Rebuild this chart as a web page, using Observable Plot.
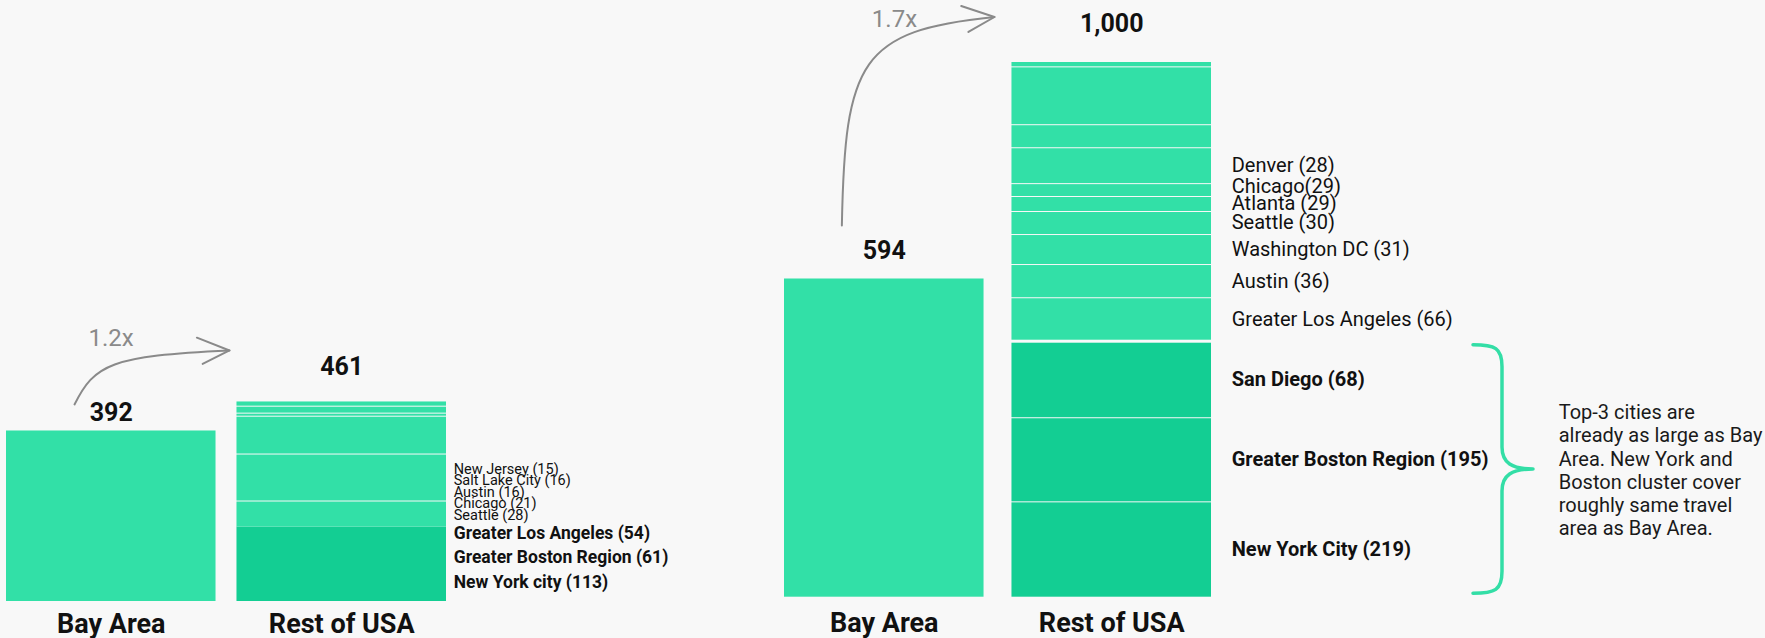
<!DOCTYPE html>
<html>
<head>
<meta charset="utf-8">
<script src="https://cdn.jsdelivr.net/npm/d3@7"></script>
<script src="https://cdn.jsdelivr.net/npm/@observablehq/plot@0.6"></script>
<style>
  html, body { margin: 0; padding: 0; background: #f8f8f8; overflow: hidden; }
  #wrap { display: flex; width: 1765px; height: 638px; }
  #wrap svg { overflow: visible; flex: none; }
</style>
</head>
<body>
<div id="wrap"></div>
<script>
// ---------- data ----------
const groups = ["Bay Area", "Rest of USA"];

// left panel
const leftTotals = [392, 461];
const leftRestSegments = [171, 60, 108, 87, 7, 16, 12];          // bottom -> top
const leftRestShades   = ["dark", "light", "light", "light", "light", "light", "light"];
const leftBoldLabels   = ["Greater Los Angeles (54)", "Greater Boston Region (61)", "New York city (113)"];
const leftSmallLabels  = ["New Jersey (15)", "Salt Lake City (16)", "Austin (16)", "Chicago (21)", "Seattle (28)"];

// right panel
const rightTotals = [594, 1000];
const rightRestSegments = [178, 157, 141, 83, 62, 56, 43, 28, 24, 67, 43, 108, 10]; // bottom -> top
const rightRestShades   = ["dark", "dark", "dark", "light", "light", "light", "light", "light", "light", "light", "light", "light", "light"];
const rightRestLabels   = ["New York City (219)", "Greater Boston Region (195)", "San Diego (68)",
  "Greater Los Angeles (66)", "Austin (36)", "Washington DC (31)", "Seattle (30)", "Atlanta (29)",
  "Chicago(29)", "Denver (28)", "", "", ""];

const noteLines = ["Top-3 cities are", "already as large as Bay", "Area. New York and",
  "Boston cluster cover", "roughly same travel", "area as Bay Area."];

// ---------- style ----------
const FONT = 'Roboto, "Titillium Web", "Noto Sans", sans-serif';
const LIGHT = "#32e0a7", DARK = "#13ce93", INK = "#111111", GREY = "#8a8a8a", BRACE = "#33dea6";

function buildRows(totals, segs, shades, labels) {
  const rows = [{group: groups[0], y1: 0, y2: totals[0], shade: "light", label: "", first: true}];
  let acc = 0;
  segs.forEach((v, i) => {
    rows.push({group: groups[1], y1: acc, y2: acc + v, shade: shades[i],
      label: labels ? labels[i] : "", first: i === 0 || shades[i] !== shades[i - 1]});
    acc += v;
  });
  return rows;
}

// place labels at segment middles, pushed apart to a minimum spacing (in data units)
function dodgeLabels(rows, minGap) {
  let prev = -Infinity;
  rows.filter(d => d.group === groups[1] && d.label).forEach(d => {
    const mid = (d.y1 + d.y2) / 2;
    d.labelY = Math.max(mid, prev + minGap);
    prev = d.labelY;
  });
}

function scalePos(sc, v) {
  if (typeof sc.apply === "function") return sc.apply(v);
  if (sc.type === "band") {
    return d3.scaleBand().domain(sc.domain).range(sc.range)
      .paddingInner(sc.paddingInner ?? 0).paddingOuter(sc.paddingOuter ?? 0).align(sc.align ?? 0.5)(v);
  }
  return d3.scaleLinear().domain(sc.domain).range(sc.range)(v);
}

function drawArrow(plot, totals, o) {
  const xs = plot.scale("x"), ys = plot.scale("y");
  const bw = xs.bandwidth;
  const x0 = scalePos(xs, groups[0]) + bw * o.startFrac;
  const y0 = scalePos(ys, totals[0]) - o.startLift;
  const x3 = scalePos(xs, groups[1]) - o.endGap;
  const y3 = scalePos(ys, totals[1]) - o.endLift;
  const dx = x3 - x0, dy = y3 - y0;
  const c1 = [x0 + o.c1[0] * dx, y0 + o.c1[1] * dy];
  const c2 = [x0 + o.c2[0] * dx, y3 - o.c2[1] * dy];
  const svg = d3.select(plot);
  const g = svg.append("g").attr("fill", "none").attr("stroke", GREY)
    .attr("stroke-width", 2).attr("stroke-linecap", "round").attr("stroke-linejoin", "round");
  g.append("path").attr("d", `M${x0},${y0}C${c1[0]},${c1[1]} ${c2[0]},${c2[1]} ${x3},${y3}`);
  const th = Math.atan2(y3 - c2[1], x3 - c2[0]) + Math.PI;
  const a = 24 * Math.PI / 180;
  const up = [x3 + 35 * Math.cos(th + a), y3 + 35 * Math.sin(th + a)];
  const lo = [x3 + 30 * Math.cos(th - a), y3 + 30 * Math.sin(th - a)];
  g.append("path").attr("d", `M${up[0]},${up[1]}L${x3},${y3}L${lo[0]},${lo[1]}`);
  svg.append("text").attr("x", x0 + o.labelDx).attr("y", y3 + o.labelDy)
    .attr("fill", GREY).attr("font-size", 24).attr("text-anchor", "start")
    .style("font-family", FONT)
    .text((totals[1] / totals[0]).toFixed(1) + "x");
}

function panelMarks(rows, totals, o) {
  const rest = rows.filter(d => d.group === groups[1]);
  return [
    Plot.rectY(rows.filter(d => d.group === groups[0]), {x: "group", y1: "y1", y2: "y2", fill: LIGHT}),
    Plot.rectY(rest.filter(d => d.shade === "dark"), {x: "group", y1: "y1", y2: "y2", fill: DARK, insetTop: o.darkInset}),
    Plot.rectY(rest.filter(d => d.shade === "light" && d.first), {x: "group", y1: "y1", y2: "y2", fill: LIGHT, insetTop: 1, insetBottom: o.groupGap}),
    Plot.rectY(rest.filter(d => d.shade === "light" && !d.first), {x: "group", y1: "y1", y2: "y2", fill: LIGHT, insetTop: 1}),
    // totals above bars
    Plot.text(groups.slice(0, 1), {x: d => d, y: () => totals[0], text: () => d3.format(",")(totals[0]),
      lineAnchor: "bottom", dy: o.totalDy[0], fontSize: 25, fontWeight: "bold", fill: INK}),
    Plot.text(groups.slice(1), {x: d => d, y: () => totals[1], text: () => d3.format(",")(totals[1]),
      lineAnchor: "bottom", dy: o.totalDy[1], fontSize: 25, fontWeight: "bold", fill: INK}),
    // category labels below bars
    Plot.text(groups, {x: d => d, y: () => 0, text: d => d, lineAnchor: "top", dy: o.catPad,
      fontSize: 27, fontWeight: "bold", fill: INK})
  ];
}

// ---------- left panel ----------
const leftRows = buildRows(leftTotals, leftRestSegments, leftRestShades);
const kLeft = 0.435;
const leftPlot = Plot.plot({
  width: 700, height: 638,
  marginTop: 0, marginRight: 0, marginBottom: 37, marginLeft: 0,
  style: {background: "transparent", fontFamily: FONT, overflow: "visible"},
  x: {domain: groups, range: [6, 446], paddingInner: 0.0909, paddingOuter: 0, round: false, axis: null},
  y: {domain: [0, 1000], range: [601, 601 - 1000 * kLeft], axis: null},
  marks: [
    ...panelMarks(leftRows, leftTotals, {darkInset: 0, groupGap: 0, catPad: 12, totalDy: [-10, -26]}),
    Plot.text([leftSmallLabels.join("\n")], {x: () => groups[1], y: () => 0, text: d => d,
      textAnchor: "start", lineAnchor: "bottom", dx: 112, dy: -82, fontSize: 14.5, lineHeight: 0.79, fill: INK}),
    Plot.text([leftBoldLabels.join("\n")], {x: () => groups[1], y: () => 0, text: d => d,
      textAnchor: "start", lineAnchor: "bottom", dx: 112, dy: -14, fontSize: 17.5, fontWeight: "bold", lineHeight: 1.4, fill: INK})
  ]
});
drawArrow(leftPlot, leftTotals, {startFrac: 0.327, startLift: 26, endGap: 7, endLift: 50,
  c1: [0.13, 0.74], c2: [0.23, 0.1], labelDx: 14, labelDy: -4});

// ---------- right panel ----------
const rightRows = buildRows(rightTotals, rightRestSegments, rightRestShades, rightRestLabels);
const darkTotal = d3.sum(rightRestSegments.filter((v, i) => rightRestShades[i] === "dark"));
const kRight = 0.5357;
dodgeLabels(rightRows, 17 / kRight);
const rightPlot = Plot.plot({
  width: 1065, height: 638,
  marginTop: 0, marginRight: 0, marginBottom: 41.3, marginLeft: 0,
  style: {background: "transparent", fontFamily: FONT, overflow: "visible"},
  x: {domain: groups, range: [84, 511], paddingInner: 0.1228, paddingOuter: 0, round: false, axis: null},
  y: {domain: [0, 1000], range: [596.7, 596.7 - 1000 * kRight], axis: null},
  marks: [
    ...panelMarks(rightRows, rightTotals, {darkInset: 1, groupGap: 2, catPad: 16, totalDy: [-20, -30]}),
    Plot.text(rightRows.filter(d => d.label && d.shade === "light"), {x: "group", y: "labelY",
      text: "label", textAnchor: "start", dx: 120, fontSize: 20, fill: INK}),
    Plot.text(rightRows.filter(d => d.label && d.shade === "dark"), {x: "group", y: "labelY",
      text: "label", textAnchor: "start", dx: 120, fontSize: 20, fontWeight: "bold", fill: INK}),
    Plot.text([noteLines.join("\n")], {x: () => groups[1], y: () => darkTotal / 2, text: d => d,
      textAnchor: "start", lineAnchor: "middle", dx: 447, fontSize: 20, lineHeight: 1.165, fill: "#1a1a1a"})
  ]
});
drawArrow(rightPlot, rightTotals, {startFrac: 0.29, startLift: 53, endGap: 17, endLift: 44,
  c1: [0.02, 0.79], c2: [0.12, 0.065], labelDx: 30, labelDy: 10});

// curly brace spanning the top-3 (dark) segments
(function drawBrace(plot) {
  const xs = plot.scale("x"), ys = plot.scale("y");
  const right = scalePos(xs, groups[1]) + xs.bandwidth;
  const top = scalePos(ys, darkTotal) + 3, bot = scalePos(ys, 0) - 3.4, mid = (top + bot) / 2;
  const x0 = right + 262, xv = right + 291, xt = right + 322;
  const d = `M${x0},${top}C${x0 + 22},${top} ${xv},${top + 3} ${xv},${top + 22}` +
    `L${xv},${mid - 22}C${xv},${mid - 6} ${xv + 10},${mid} ${xt},${mid}` +
    `M${xt},${mid}C${xv + 10},${mid} ${xv},${mid + 6} ${xv},${mid + 22}` +
    `L${xv},${bot - 22}C${xv},${bot - 3} ${x0 + 22},${bot} ${x0},${bot}`;
  d3.select(plot).append("path").attr("d", d).attr("fill", "none").attr("stroke", BRACE)
    .attr("stroke-width", 3.5).attr("stroke-linecap", "round").attr("stroke-linejoin", "round");
})(rightPlot);

const wrap = document.getElementById("wrap");
wrap.appendChild(leftPlot);
wrap.appendChild(rightPlot);
</script>
</body>
</html>
